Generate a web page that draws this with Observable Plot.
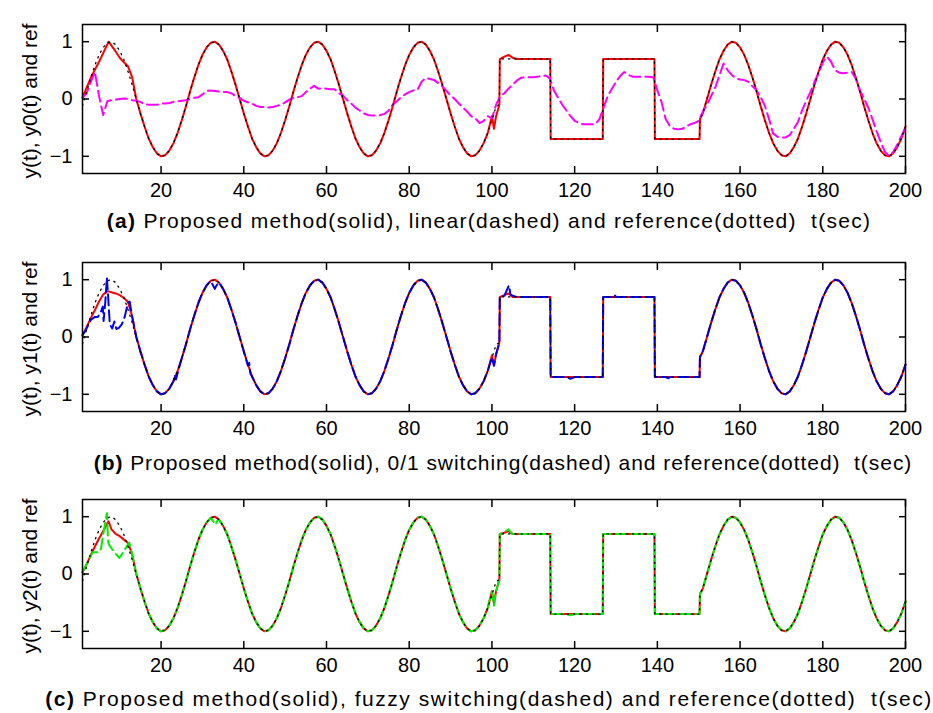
<!DOCTYPE html>
<html><head><meta charset="utf-8">
<script src="https://cdn.jsdelivr.net/npm/d3@7"></script>
<script src="https://cdn.jsdelivr.net/npm/@observablehq/plot@0.6"></script>
<style>
body{margin:0;background:#fff;}
#wrap{position:relative;width:933px;height:713px;overflow:hidden;font-family:"Liberation Sans",Arial,sans-serif;color:#000;}
.panel{position:absolute;left:0;}
.cap{position:absolute;transform:translateX(-50%);white-space:pre;font-size:21px;line-height:21px;}
</style></head><body><div id="wrap"></div>
<script>
// ---- data ----
const xTicks = [20, 40, 60, 80, 100, 120, 140, 160, 180, 200];
const yTicks = [-1, 0, 1];
const grid = d3.range(1, 201); // time samples t = 1..200 s

// reference signal (dotted), one value per second
const ref = [
 -0.12, 0.13, 0.37, 0.59, 0.77, 0.9, 0.98, 1.0, 0.95, 0.84, 0.69, 0.48, 0.25, 0, -0.25, -0.48, -0.69, -0.84, -0.95, -1.0, -0.98, -0.9, -0.77, -0.59, -0.37,
 -0.13, 0.13, 0.37, 0.59, 0.77, 0.9, 0.98, 1.0, 0.95, 0.84, 0.69, 0.48, 0.25, 0, -0.25, -0.48, -0.69, -0.84, -0.95, -1.0, -0.98, -0.9, -0.77, -0.59, -0.37,
 -0.13, 0.13, 0.37, 0.59, 0.77, 0.9, 0.98, 1.0, 0.95, 0.84, 0.69, 0.48, 0.25, 0, -0.25, -0.48, -0.69, -0.84, -0.95, -1.0, -0.98, -0.9, -0.77, -0.59, -0.37,
 -0.13, 0.13, 0.37, 0.59, 0.77, 0.9, 0.98, 1.0, 0.95, 0.84, 0.69, 0.48, 0.25, 0, -0.25, -0.48, -0.69, -0.84, -0.95, -1.0, -0.98, -0.9, -0.77, -0.59, -0.37,
 -0.13, 0.7, 0.7, 0.7, 0.7, 0.7, 0.7, 0.7, 0.7, 0.7, 0.7, 0.7, 0.7, 0.7, -0.7, -0.7, -0.7, -0.7, -0.7, -0.7, -0.7, -0.7, -0.7, -0.7, -0.7,
 -0.7, 0.7, 0.7, 0.7, 0.7, 0.7, 0.7, 0.7, 0.7, 0.7, 0.7, 0.7, 0.7, 0.7, -0.7, -0.7, -0.7, -0.7, -0.7, -0.7, -0.7, -0.7, -0.7, -0.7, -0.7,
 -0.25, 0, 0.25, 0.48, 0.69, 0.84, 0.95, 1.0, 0.98, 0.9, 0.77, 0.59, 0.37, 0.13, -0.13, -0.37, -0.59, -0.77, -0.9, -0.98, -1.0, -0.95, -0.84, -0.69, -0.48,
 -0.25, 0, 0.25, 0.48, 0.69, 0.84, 0.95, 1.0, 0.98, 0.9, 0.77, 0.59, 0.37, 0.13, -0.13, -0.37, -0.59, -0.77, -0.9, -0.98, -1.0, -0.95, -0.84, -0.69, -0.48
];
// extra points at the square-wave edges
const refEdgeT = [101.8, 101.9, 114.1, 114.2, 126.8, 126.9, 139.3, 139.4, 150.2, 150.3];
const refEdgeY = [-0.1, 0.7, 0.7, -0.7, -0.7, 0.7, 0.7, -0.7, -0.7, -0.35];

// (a) linear controller output (dashed magenta)
const linear = [
 0.02, 0.1, 0.3, 0.47, 0.05, -0.28, -0.04, -0.02, -0.01, 0.0, 0.01, 0.0, -0.02, -0.03, -0.05, -0.09, -0.1, -0.1, -0.1, -0.08, -0.08, -0.07, -0.05, -0.04, -0.03,
 -0.02, 0.0, 0.02, 0.03, 0.08, 0.14, 0.15, 0.14, 0.13, 0.12, 0.12, 0.1, 0.05, 0.02, -0.03, -0.06, -0.08, -0.12, -0.14, -0.14, -0.15, -0.14, -0.12, -0.1, -0.06,
 -0.01, 0.02, 0.03, 0.05, 0.12, 0.18, 0.23, 0.18, 0.19, 0.18, 0.17, 0.17, 0.1, 0.06, -0.02, -0.08, -0.15, -0.2, -0.25, -0.28, -0.29, -0.29, -0.28, -0.26, -0.2,
 -0.1, -0.04, 0.03, 0.08, 0.12, 0.15, 0.16, 0.3, 0.37, 0.35, 0.33, 0.28, 0.22, 0.14, 0.06, 0.0, -0.08, -0.15, -0.22, -0.3, -0.34, -0.42, -0.38, -0.3, -0.34,
 -0.1, 0.05, 0.1, 0.18, 0.25, 0.32, 0.37, 0.38, 0.38, 0.38, 0.39, 0.4, 0.41, 0.36, 0.15, 0.02, -0.1, -0.2, -0.3, -0.38, -0.42, -0.44, -0.44, -0.44, -0.44,
 -0.35, -0.15, 0.05, 0.18, 0.3, 0.4, 0.47, 0.42, 0.39, 0.39, 0.39, 0.39, 0.39, 0.38, 0.15, -0.05, -0.35, -0.47, -0.52, -0.53, -0.52, -0.48, -0.44, -0.42, -0.38,
 -0.22, -0.1, 0.05, 0.2, 0.41, 0.62, 0.5, 0.42, 0.36, 0.34, 0.33, 0.3, 0.22, 0.15, 0.03, -0.12, -0.35, -0.6, -0.66, -0.67, -0.67, -0.63, -0.52, -0.4, -0.2,
 -0.03, 0.12, 0.3, 0.45, 0.64, 0.74, 0.65, 0.5, 0.46, 0.45, 0.46, 0.47, 0.35, 0.15, 0.0, -0.15, -0.35, -0.56, -0.75, -0.92, -0.99, -0.93, -0.8, -0.65, -0.5
];

// proposed method (solid red) in each panel: start-up transient + small glitches, otherwise on the reference
const propAEarlyT = [1, 2, 3, 4, 5, 6, 7, 7.3, 8, 9, 10, 11, 12, 13];
const propAEarlyY = [0.03, 0.2, 0.37, 0.51, 0.65, 0.8, 0.95, 1.0, 0.93, 0.83, 0.72, 0.64, 0.57, 0.38];
const propAGlitchT = [100, 100.5, 101, 103, 104, 105];
const propAGlitchY = [-0.3, -0.52, -0.3, 0.74, 0.77, 0.72];

const propBEarlyT = [1, 2, 3, 4, 5, 6, 7, 8, 9, 10, 11, 12, 13];
const propBEarlyY = [0.03, 0.17, 0.33, 0.47, 0.62, 0.74, 0.8, 0.78, 0.76, 0.73, 0.68, 0.61, 0.36];
const propBGlitchT = [100, 100.5, 101, 103, 104];
const propBGlitchY = [-0.32, -0.5, -0.3, 0.73, 0.76];

const propCEarlyT = [1, 2, 3, 4, 5, 6, 7, 7.3, 8, 9, 10, 11, 12, 13];
const propCEarlyY = [0.03, 0.17, 0.33, 0.48, 0.62, 0.75, 0.88, 0.92, 0.78, 0.7, 0.66, 0.6, 0.54, 0.35];
const propCGlitchT = [100, 100.5, 101, 103, 104];
const propCGlitchY = [-0.3, -0.52, -0.3, 0.72, 0.75];

// (b) 0/1 switching (dashed blue)
const switchEarlyT = [1, 2, 3, 4, 4.7, 5.5, 5.9, 6.1, 6.5, 6.9, 7.2, 7.6, 8.2, 8.7, 9.2, 9.8, 10.5, 11.2, 12, 12.4, 13];
const switchEarlyY = [0.03, 0.15, 0.3, 0.35, 0.35, 0.45, 0.53, 0.28, 0.6, 1.04, 0.7, 0.22, 0.15, 0.27, 0.14, 0.16, 0.22, 0.35, 0.6, 0.62, 0.36];
const switchGlitchT = [23.3, 23.6, 24.1, 33, 33.4, 41, 41.3, 41.6, 100, 100.5, 101, 103, 103.5, 104.1, 104.5, 105, 119, 129.6, 142.7];
const switchGlitchY = [-0.66, -0.74, -0.6, 0.84, 0.9, -0.5, -0.45, -0.64, -0.35, -0.5, -0.3, 0.72, 0.8, 0.9, 0.74, 0.72, -0.73, 0.74, -0.72];

// (c) fuzzy switching (dashed green)
const fuzzyEarlyT = [1, 2, 3, 3.5, 5, 5.5, 6.1, 6.9, 7.2, 7.5, 8, 8.9, 9.9, 11, 12.3, 13];
const fuzzyEarlyY = [0.03, 0.17, 0.32, 0.38, 0.38, 0.45, 0.73, 1.06, 0.56, 0.5, 0.45, 0.36, 0.28, 0.4, 0.55, 0.35];
const fuzzyGlitchT = [33.2, 33.6, 100, 100.5, 101, 103, 104, 104.6, 119];
const fuzzyGlitchY = [0.86, 0.93, -0.3, -0.55, -0.3, 0.73, 0.78, 0.72, -0.72];

// ---- build tables ----
const refPts = grid.map((tt, i) => ({t: tt, y: ref[i]}))
  .concat(refEdgeT.map((tt, i) => ({t: tt, y: refEdgeY[i]})))
  .sort((a, b) => a.t - b.t);
function follower(earlyT, earlyY, glT, glY) {
  const last = d3.max(earlyT);
  const pts = earlyT.map((tt, i) => ({t: tt, y: earlyY[i]}));
  for (const p of refPts) if (p.t > last && !glT.some(g => Math.abs(g - p.t) < 0.3)) pts.push(p);
  glT.forEach((tt, i) => pts.push({t: tt, y: glY[i]}));
  return pts.sort((a, b) => a.t - b.t);
}
const linearPts = grid.map((tt, i) => ({t: tt, y: linear[i]}));

const panels = [
  {top: 0, cap: 210, capX: 489, spacing: 1.28, tag: "(a)", text: " Proposed method(solid), linear(dashed) and reference(dotted)  t(sec)",
   ylabel: "y(t), y0(t) and ref", solid: follower(propAEarlyT, propAEarlyY, propAGlitchT, propAGlitchY),
   dashed: linearPts, color: "#ff00ff"},
  {top: 238, cap: 452, capX: 503, spacing: 0.95, tag: "(b)", text: " Proposed method(solid), 0/1 switching(dashed) and reference(dotted)  t(sec)",
   ylabel: "y(t), y1(t) and ref", solid: follower(propBEarlyT, propBEarlyY, propBGlitchT, propBGlitchY),
   dashed: follower(switchEarlyT, switchEarlyY, switchGlitchT, switchGlitchY), color: "#0000ff"},
  {top: 475, cap: 688, capX: 489, spacing: 1.55, tag: "(c)", text: " Proposed method(solid), fuzzy switching(dashed) and reference(dotted)  t(sec)",
   ylabel: "y(t), y2(t) and ref", solid: follower(propCEarlyT, propCEarlyY, propCGlitchT, propCGlitchY),
   dashed: follower(fuzzyEarlyT, fuzzyEarlyY, fuzzyGlitchT, fuzzyGlitchY), color: "#00ee00"}
];

const wrap = document.getElementById("wrap");
const font = "Liberation Sans, Arial, sans-serif";
for (const p of panels) {
  const chart = Plot.plot({
    width: 933, height: 200,
    marginLeft: 82, marginRight: 28, marginTop: 24, marginBottom: 27,
    style: {fontFamily: font, fontSize: "20px", background: "white", color: "black", overflow: "visible"},
    x: {domain: [1, 200]},
    y: {domain: [-1.3, 1.3]},
    marks: [
      Plot.line(p.solid, {x: "t", y: "y", stroke: "#ff0000", strokeWidth: 2}),
      Plot.line(p.dashed, {x: "t", y: "y", stroke: p.color, strokeWidth: 2, strokeDasharray: "11,5"}),
      Plot.line(refPts, {x: "t", y: "y", stroke: "#000", strokeWidth: 1.3, strokeDasharray: "1.3,5"}),
      Plot.frame({stroke: "#000", strokeWidth: 1.5}),
      Plot.axisX(xTicks, {anchor: "bottom", tickSize: -7, tickPadding: 16, label: null, strokeWidth: 1.5}),
      Plot.axisX(xTicks, {anchor: "top", tickSize: -7, tickFormat: () => "", label: null, strokeWidth: 1.5}),
      Plot.axisY(yTicks, {anchor: "left", tickSize: -7, tickPadding: 17, tickFormat: "d", label: null, strokeWidth: 1.5}),
      Plot.axisY(yTicks, {anchor: "right", tickSize: -7, tickFormat: () => "", label: null, strokeWidth: 1.5}),
      Plot.text([p.ylabel], {x: null, y: null, text: d => d, frameAnchor: "left", textAnchor: "middle", rotate: -90, dx: -52, dy: 2, fontSize: 21, lineAnchor: "middle"})
    ]
  });
  chart.classList.add("panel");
  chart.style.top = p.top + "px";
  wrap.appendChild(chart);
  const cap = document.createElement("div");
  cap.className = "cap";
  cap.style.top = p.cap + "px";
  cap.style.left = p.capX + "px";
  cap.style.letterSpacing = p.spacing + "px";
  const b = document.createElement("b");
  b.textContent = p.tag;
  cap.appendChild(b);
  cap.appendChild(document.createTextNode(p.text));
  wrap.appendChild(cap);
}
</script></body></html>
